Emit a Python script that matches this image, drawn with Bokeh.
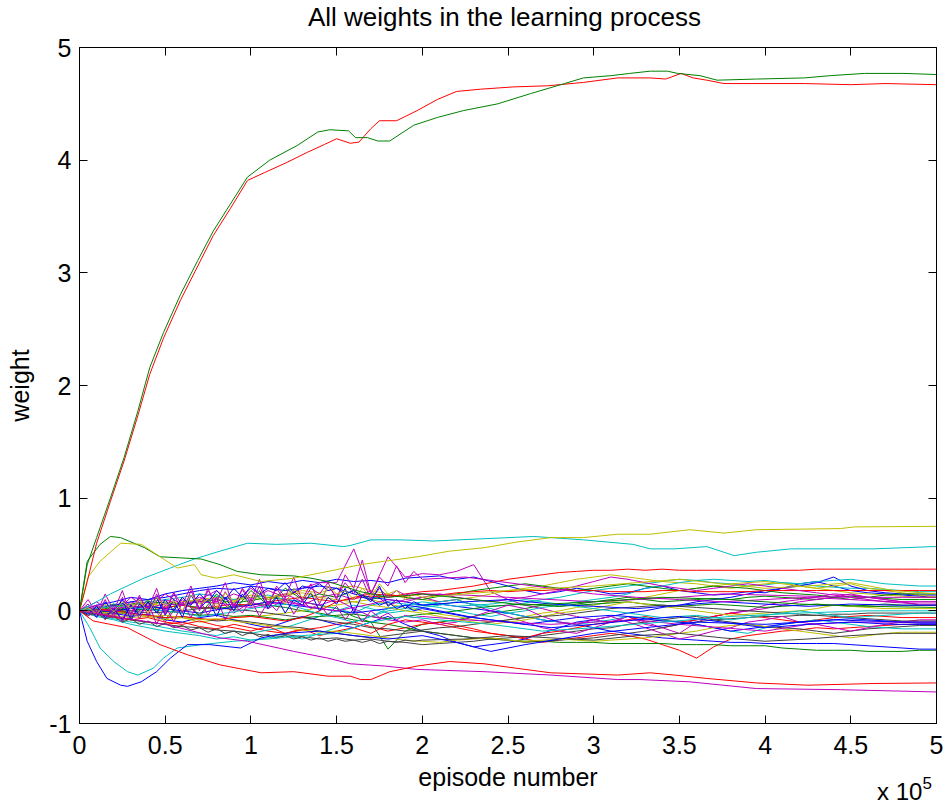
from bokeh.plotting import figure
from bokeh.models import Range1d, LinearAxis, FixedTicker, Div
from bokeh.layouts import column
from bokeh.embed import file_html
from bokeh.resources import INLINE

# ---------------- data (episode number in units of 1e5) ----------------
title_text = "All weights in the learning process"
x_ticks = [0, 0.5, 1, 1.5, 2, 2.5, 3, 3.5, 4, 4.5, 5]
x_tick_labels = ["0", "0.5", "1", "1.5", "2", "2.5", "3", "3.5", "4", "4.5", "5"]
y_ticks = [-1, 0, 1, 2, 3, 4, 5]
y_tick_labels = ["-1", "0", "1", "2", "3", "4", "5"]

x_grid = [0.0, 0.1, 0.2, 0.3, 0.4, 0.5, 0.6, 0.7, 0.8, 0.9,
          1.0, 1.1, 1.2, 1.3, 1.4, 1.5, 1.6, 1.7, 1.8, 1.9,
          2.0, 2.1, 2.2, 2.3, 2.4, 2.5, 2.6, 2.7, 2.8, 2.9,
          3.0, 3.1, 3.2, 3.3, 3.4, 3.5, 3.6, 3.7, 3.8, 3.9,
          4.0, 4.1, 4.2, 4.3, 4.4, 4.5, 4.6, 4.7, 4.8, 4.9, 5.0]

w01 = [0, .05, .08, .12, .10, .15, .18, .20, .22, .25, .23, .26, .24, .27, .25, .28, .26, .27, .25, .29,
       .30, .31, .28, .30, .26, .22, .18, .15, .17, .20, .18, .15, .16, .20, .22, .18, .16, .14, .15, .17,
       .16, .20, .24, .26, .22, .18, .16, .15, .14, .13, .12]
w02 = [0, -.02, .01, .03, .05, .02, .06, .08, .10, .07, .09, .12, .10, .08, .05, .02, -.05, -.10, -.34, -.18,
       -.12, -.10, -.08, -.05, -.02, 0.0, .02, .05, .04, .06, .08, .10, .12, .10, .08, .09, .10, .11, .10, .12,
       .13, .12, .11, .10, .12, .13, .12, .11, .10, .10, .10]
w03 = [0, -.03, -.06, -.08, -.10, -.12, -.10, -.14, -.16, -.12, -.15, -.18, -.20, -.17, -.15, -.12, -.10, -.14, -.18, -.15,
       -.12, -.10, -.13, -.16, -.20, -.22, -.25, -.28, -.26, -.24, -.22, -.20, -.22, -.25, -.30, -.35, -.42, -.32, -.25, -.22,
       -.20, -.18, -.17, -.15, -.16, -.15, -.14, -.13, -.12, -.12, -.12]
w04 = [0, -.04, -.07, -.10, -.12, -.15, -.18, -.20, -.22, -.18, -.20, -.17, -.15, -.10, -.05, 0, .05, .02, -.02, .00,
       .03, .05, .08, .06, .04, .05, .07, .10, .12, .15, .18, .20, .22, .24, .26, .28, .27, .25, .24, .22,
       .23, .25, .24, .22, .21, .20, .20, .19, .18, .17, .17]
w05 = [0, .05, -.02, .08, .03, .10, .05, .12, .08, .15, .10, .18, .12, .20, .25, .25, .55, .15, .48, .30,
       .33, .32, .35, .41, .17, .10, .05, .02, -.02, -.05, -.08, -.10, -.05, -.12, -.15, -.20, -.10, -.05, -.02, .00,
       .05, .08, .10, .12, .15, .14, .12, .10, .08, .08, .08]
w06 = [0, .02, .04, .03, .05, .08, .06, .10, .12, .10, .14, .12, .15, .18, .16, .20, .22, .18, .15, .12,
       .10, .08, .10, .12, .15, .18, .20, .22, .25, .28, .30, .32, .30, .28, .26, .25, .24, .22, .20, .22,
       .24, .25, .22, .20, .18, .16, .15, .14, .13, .12, .12]
w07 = [0, -.03, -.05, -.08, -.10, -.12, -.14, -.15, -.17, -.18, -.20, -.22, -.21, -.23, -.25, -.24, -.26, -.25, -.27, -.28,
       -.30, -.29, -.28, -.27, -.25, -.24, -.23, -.22, -.20, -.18, -.16, -.15, -.12, -.10, -.08, -.06, -.05, -.08, -.10, -.12,
       -.14, -.15, -.16, -.18, -.20, -.18, -.16, -.15, -.14, -.13, -.13]
w08 = [0, .03, -.02, -.05, -.03, -.08, -.10, -.06, -.04, -.08, -.12, -.15, -.10, -.05, -.08, -.12, -.15, -.10, -.05, -.12,
       -.18, -.22, -.28, -.32, -.30, -.28, -.25, -.20, -.15, -.10, -.08, -.05, -.02, 0, .03, .05, .08, .10, .12, .15,
       .18, .20, .22, .25, .30, .22, .18, .16, .15, .14, .14]
w09 = [0, .02, .04, .06, .08, .07, .05, .03, .02, .04, .06, .05, .03, .00, -.02, -.05, -.08, -.10, -.12, -.15,
       -.18, -.20, -.22, -.24, -.25, -.26, -.27, -.27, -.28, -.28, -.28, -.29, -.29, -.29, -.29, -.30, -.30, -.30, -.31, -.31,
       -.31, -.33, -.34, -.35, -.35, -.35, -.36, -.36, -.36, -.35, -.35]
w10 = [0, .01, -.01, .02, .00, .03, .05, .02, .04, .06, .05, .08, .10, .12, .10, .08, .11, .13, .12, .15,
       .17, .18, .20, .22, .25, .28, .30, .32, .34, .35, .36, .36, .37, .36, .37, .36, .36, .36, .36, .36,
       .36, .36, .36, .37, .37, .37, .37, .37, .37, .37, .37]
w11 = [0, .03, .06, .05, .08, .10, .12, .15, .13, .10, .12, .14, .10, .08, .05, .02, -.02, .05, .08, .06,
       .05, .03, .00, -.03, -.05, -.02, .00, .03, .05, .08, .10, .12, .15, .20, .22, .25, .27, .28, .27, .26,
       .27, .25, .24, .26, .27, .28, .26, .24, .23, .22, .22]
w12 = [0, -.05, .05, -.08, .08, -.10, .10, -.05, .12, -.02, .08, .02, .10, .05, .12, .15, .10, .18, .05, .10,
       .12, .08, .10, .05, .00, -.05, -.10, -.15, -.18, -.20, -.15, -.10, -.05, -.10, -.15, -.12, -.08, -.05, -.02, .00,
       .02, .05, .08, .10, .12, .15, .12, .10, .08, .05, .05]
w13 = [0, -.02, -.04, -.06, -.05, -.08, -.06, -.10, -.08, -.06, -.05, -.04, -.02, .00, .03, .05, .08, .10, .06, .03,
       .00, -.03, -.05, -.08, -.10, -.08, -.05, -.02, .00, .03, .05, .08, .10, .12, .15, .18, .20, .22, .24, .25,
       .26, .24, .22, .20, .22, .24, .20, .18, .16, .14, .12]
w14 = [0, -.01, -.03, -.02, -.04, -.06, -.05, -.07, -.09, -.08, -.10, -.12, -.14, -.15, -.18, -.20, -.22, -.24, -.22, -.20,
       -.18, -.20, -.22, -.24, -.25, -.26, -.28, -.27, -.26, -.25, -.24, -.22, -.20, -.18, -.15, -.12, -.10, -.08, -.07, -.06,
       -.05, -.05, -.04, -.04, -.03, -.03, -.02, -.02, -.02, -.02, -.02]
w15 = [0, .02, .05, .08, .10, .12, .15, .18, .20, .19, .22, .20, .18, .20, .22, .20, .15, .12, .10, .08,
       .05, .06, .04, .02, .00, -.02, -.05, -.08, -.10, -.12, -.15, -.18, -.20, -.22, -.24, -.25, -.26, -.27, -.28, -.28,
       -.29, -.29, -.29, -.29, -.29, -.30, -.31, -.32, -.33, -.34, -.34]
w16 = [0, .00, -.02, .00, .02, .00, -.02, -.04, -.03, -.05, -.04, -.06, -.08, -.06, -.05, -.04, -.03, -.05, -.07, -.05,
       -.03, -.02, .00, .02, .04, .05, .06, .05, .04, .05, .06, .07, .08, .06, .05, .04, .05, .06, .05, .04,
       .03, .04, .05, .06, .05, .04, .05, .06, .05, .05, .05]
w17 = [0, -.02, -.05, -.08, -.06, -.10, -.12, -.09, -.13, -.15, -.18, -.14, -.20, -.16, -.22, -.18, -.15, -.20, -.12, -.08,
       -.10, -.12, -.15, -.18, -.20, -.22, -.24, -.20, -.18, -.15, -.12, -.10, -.08, -.05, -.08, -.10, -.08, -.05, -.02, -.04,
       -.06, -.08, -.10, -.08, -.06, -.05, -.04, -.05, -.06, -.06, -.06]
w18 = [0, -.05, -.08, -.12, -.15, -.18, -.20, -.22, -.25, -.23, -.26, -.24, -.22, -.25, -.20, -.15, -.10, -.05, .00, .02,
       .05, .08, .10, .05, .02, -.02, -.05, -.08, -.10, -.12, -.10, -.08, -.05, -.06, -.08, -.10, -.12, -.15, -.18, -.20,
       -.15, -.12, -.10, -.08, -.10, -.12, -.14, -.15, -.16, -.16, -.16]
w19 = [0, .08, -.03, .12, .02, .15, .05, .10, .18, .05, .20, .10, .15, .08, .05, .10, .02, -.05, -.08, -.10,
       -.08, -.12, -.10, -.05, .00, .05, .02, -.05, -.10, -.12, -.08, -.05, -.10, -.15, -.20, -.25, -.22, -.18, -.15, -.10,
       -.08, -.05, -.10, -.12, -.15, -.18, -.15, -.12, -.10, -.08, -.08]
w20 = [0, .03, .01, .05, .07, .04, .08, .10, .06, .09, .12, .10, .14, .16, .12, .10, .08, .05, .03, .00,
       -.02, -.05, -.08, -.10, -.12, -.10, -.08, -.05, -.02, .00, .02, .05, .08, .06, .04, .02, .00, -.02, -.04, -.03,
       -.02, -.01, .00, .02, .05, .04, .03, .02, .02, .02, .02]
w21 = [0, .01, .02, .00, -.02, -.01, .00, .02, .03, .01, .00, -.02, -.04, -.06, -.08, -.10, -.12, -.15, -.16, -.18,
       -.17, -.15, -.14, -.12, -.10, -.08, -.06, -.05, -.04, -.02, .00, .02, .03, .04, .05, .04, .03, .02, .01, .00,
       -.01, -.02, -.03, -.04, -.05, -.06, -.07, -.08, -.09, -.09, -.09]
w22 = [0, -.02, .00, .02, .04, .02, .00, -.02, .01, .03, .05, .08, .06, .04, .02, .00, -.02, .00, .02, .05,
       .03, .00, -.03, -.06, -.08, -.10, -.12, -.10, -.08, -.06, -.05, -.04, -.05, -.07, -.09, -.10, -.12, -.15, -.18, -.16,
       -.14, -.12, -.10, -.09, -.08, -.07, -.08, -.09, -.10, -.11, -.11]
w23 = [0, -.03, .06, -.06, .10, -.08, .12, -.04, .15, .00, .18, .05, .20, .10, .15, .12, .18, .10, .14, .12,
       .10, .13, .15, .18, .20, .22, .24, .22, .20, .18, .20, .22, .24, .22, .20, .18, .20, .22, .21, .20,
       .18, .16, .15, .14, .12, .10, .12, .14, .15, .15, .15]
w24 = [0, .02, .00, -.02, -.04, -.06, -.05, -.07, -.08, -.06, -.05, -.07, -.09, -.06, .00, .08, .12, .15, .14, .13,
       .15, .14, .16, .17, .18, .17, .18, .18, .19, .18, .18, .17, .17, .17, .18, .18, .17, .17, .17, .17,
       .18, .18, .18, .18, .18, .18, .18, .18, .18, .18, .18]
w25 = [0, .02, .04, .03, .01, .00, -.02, -.05, -.03, -.01, .02, .04, .06, .02, -.03, -.06, -.10, -.05, .02, .05,
       .08, .06, .04, .05, .06, .08, .10, .08, .06, .04, .02, .00, -.02, -.04, -.06, -.05, -.04, -.06, -.08, -.06,
       -.04, -.02, .00, -.02, -.04, -.06, -.05, -.04, -.03, -.02, -.02]
w26 = [0, -.01, .02, .04, .03, .06, .05, .08, .07, .05, .03, .06, .08, .05, .02, .00, .03, .06, .10, .08,
       .12, .15, .12, .10, .08, .10, .12, .15, .18, .22, .26, .30, .28, .25, .22, .20, .18, .20, .22, .24,
       .22, .20, .18, .16, .14, .12, .10, .08, .07, .06, .06]
w27 = [0, -.02, -.01, -.03, -.05, -.04, -.06, -.08, -.07, -.09, -.11, -.13, -.15, -.17, -.19, -.18, -.20, -.22, -.24, -.26,
       -.27, -.28, -.26, -.25, -.24, -.26, -.27, -.26, -.25, -.26, -.27, -.26, -.25, -.24, -.22, -.20, -.18, -.15, -.13, -.12,
       -.14, -.16, -.18, -.20, -.22, -.24, -.22, -.20, -.19, -.19, -.19]

# fine-sampled noisy weights (0..2.0 every 0.05, then every 0.25)
x_fine = [0.0, 0.05, 0.1, 0.15, 0.2, 0.25, 0.3, 0.35, 0.4, 0.45, 0.5, 0.55, 0.6, 0.65, 0.7, 0.75, 0.8, 0.85, 0.9, 0.95,
          1.0, 1.05, 1.1, 1.15, 1.2, 1.25, 1.3, 1.35, 1.4, 1.45, 1.5, 1.55, 1.6, 1.65, 1.7, 1.75, 1.8, 1.85, 1.9, 1.95,
          2.0, 2.25, 2.5, 2.75, 3.0, 3.25, 3.5, 3.75, 4.0, 4.25, 4.5, 4.75, 5.0]
n01 = [0, .06, -.04, .10, -.06, .12, -.03, .14, -.05, .15, .00, .16, -.02, .18, .02, .20, .00, .17, .04, .19,
       .06, .22, .05, .20, .08, .18, .10, .24, .06, .22, .12, .25, .15, .28, .10, .20, .12, .18, .14, .16,
       .15, .14, .12, .10, .08, .10, .12, .15, .14, .13, .12, .12, .12]
n02 = [0, -.05, .05, -.08, .04, -.10, .06, -.07, .08, -.12, .05, -.10, .08, -.06, .10, -.04, .12, -.08, .06, -.02,
       .10, -.05, .08, .00, .12, -.03, .09, .02, .06, -.04, .04, -.08, .02, -.10, .00, -.06, -.02, -.08, -.04, -.06,
       -.05, -.08, -.10, -.12, -.10, -.08, -.12, -.15, -.18, -.12, -.10, -.10, -.10]
n03 = [0, .04, -.06, .08, -.02, .10, -.08, .06, .00, .12, -.04, .10, -.06, .14, .02, .10, -.05, .12, .00, .15,
       .04, .18, .02, .12, -.02, .10, .05, .16, .00, .12, .06, .20, -.02, .14, .08, .22, .04, .10, .02, .08,
       .05, .08, .10, .06, .04, .02, .05, .08, .06, .04, .06, .05, .05]
n04 = [0, .10, -.02, .15, .00, .18, -.05, .12, .02, .20, -.03, .16, .05, .22, .00, .18, .08, .25, .03, .20,
       .10, .28, .05, .22, .12, .30, .08, .20, .15, .25, .10, .32, .20, .45, .15, .30, .22, .40, .25, .35,
       .28, .30, .25, .20, .15, .12, .10, .08, .10, .12, .10, .08, .08]
n05 = [0, -.03, .04, -.06, .02, -.08, .05, -.04, .08, -.02, .10, .00, .12, .05, .15, .08, .18, .10, .20, .12,
       .22, .15, .20, .18, .25, .16, .22, .20, .24, .18, .20, .15, .18, .12, .10, .05, .08, .02, .05, .00,
       .02, -.05, -.10, -.15, -.12, -.08, -.05, -.10, -.15, -.12, -.10, -.12, -.12]
n06 = [0, .03, -.03, .06, -.01, .08, .02, .10, -.02, .12, .04, .09, .00, .14, .06, .10, .02, .16, .08, .12,
       .05, .18, .10, .14, .06, .20, .12, .16, .08, .22, .15, .18, .10, .20, .12, .24, .15, .18, .10, .15,
       .12, .15, .18, .20, .22, .25, .28, .24, .20, .22, .25, .18, .15]
n07 = [0, -.04, -.02, -.07, -.05, -.10, -.07, -.12, -.09, -.14, -.11, -.15, -.13, -.17, -.15, -.19, -.16, -.20, -.18, -.22,
       -.19, -.23, -.21, -.24, -.22, -.25, -.23, -.26, -.24, -.27, -.25, -.27, -.26, -.28, -.26, -.29, -.27, -.28, -.26, -.27,
       -.26, -.25, -.22, -.24, -.26, -.22, -.20, -.24, -.27, -.25, -.22, -.20, -.20]

# outlying weights, each with its own sample points
g1_x = [0, 0.045, 0.10, 0.18, 0.26, 0.34, 0.41, 0.49, 0.59, 0.69, 0.78, 0.88, 0.98, 1.11, 1.27, 1.39, 1.46, 1.57,
        1.61, 1.68, 1.74, 1.81, 1.95, 2.09, 2.24, 2.44, 2.63, 2.83, 2.94, 3.10, 3.21, 3.33, 3.43, 3.49, 3.62, 3.72,
        3.95, 4.23, 4.38, 4.58, 4.81, 5.0]
g1_y = [0, 0.41, 0.65, 1.00, 1.36, 1.77, 2.16, 2.47, 2.81, 3.11, 3.37, 3.61, 3.85, 4.00, 4.13, 4.25, 4.27, 4.26,
        4.20, 4.20, 4.17, 4.17, 4.31, 4.38, 4.44, 4.50, 4.59, 4.68, 4.73, 4.75, 4.77, 4.79, 4.79, 4.77, 4.75, 4.71,
        4.72, 4.73, 4.75, 4.77, 4.77, 4.76]
r1_x = [0, 0.045, 0.10, 0.18, 0.26, 0.34, 0.41, 0.49, 0.59, 0.69, 0.78, 0.88, 0.98, 1.08, 1.21, 1.33, 1.43, 1.50,
        1.58, 1.63, 1.70, 1.75, 1.85, 1.97, 2.09, 2.20, 2.34, 2.53, 2.73, 2.94, 3.14, 3.33, 3.42, 3.51, 3.58, 3.66,
        3.76, 4.23, 4.50, 4.70, 5.0]
r1_y = [0, 0.26, 0.60, 0.97, 1.33, 1.73, 2.10, 2.42, 2.76, 3.06, 3.33, 3.57, 3.82, 3.89, 3.98, 4.07, 4.14, 4.19,
        4.15, 4.16, 4.28, 4.35, 4.35, 4.44, 4.54, 4.61, 4.63, 4.65, 4.66, 4.69, 4.73, 4.73, 4.72, 4.77, 4.73, 4.71,
        4.68, 4.68, 4.67, 4.68, 4.67]
y1_x = [0, 0.05, 0.12, 0.24, 0.36, 0.45, 0.57, 0.67, 0.71, 0.80, 0.90, 1.06, 1.25, 1.45, 1.64, 1.78, 1.97, 2.16,
        2.36, 2.55, 2.75, 2.94, 3.14, 3.33, 3.56, 3.76, 3.95, 4.44, 4.52, 5.0]
y1_y = [0, 0.30, 0.44, 0.60, 0.59, 0.50, 0.38, 0.41, 0.32, 0.29, 0.32, 0.26, 0.29, 0.35, 0.41, 0.44, 0.48, 0.53,
        0.56, 0.61, 0.65, 0.65, 0.68, 0.68, 0.72, 0.69, 0.72, 0.73, 0.745, 0.75]
g2_x = [0, 0.045, 0.12, 0.18, 0.24, 0.38, 0.47, 0.59, 0.71, 0.82, 0.92, 1.06, 1.25, 1.35, 1.45, 1.64, 1.8, 2.0,
        2.3, 2.6, 3.0, 3.4, 3.8, 4.2, 4.6, 5.0]
g2_y = [0, 0.44, 0.59, 0.66, 0.65, 0.56, 0.48, 0.47, 0.46, 0.41, 0.35, 0.32, 0.31, 0.29, 0.26, 0.17, 0.12, 0.15,
        0.10, 0.05, 0.08, 0.12, 0.10, 0.06, 0.04, 0.03]
c1_x = [0, 0.1, 0.18, 0.375, 0.53, 0.67, 0.82, 0.98, 1.15, 1.35, 1.54, 1.58, 1.70, 1.87, 2.07, 2.36, 2.65, 2.94,
        3.23, 3.33, 3.47, 3.66, 3.82, 3.95, 4.15, 4.63, 4.98, 5.0]
c1_y = [0, 0.08, 0.15, 0.29, 0.38, 0.46, 0.53, 0.60, 0.59, 0.60, 0.57, 0.58, 0.63, 0.63, 0.62, 0.64, 0.66, 0.63,
        0.59, 0.55, 0.55, 0.57, 0.49, 0.52, 0.55, 0.55, 0.57, 0.57]
r3_x = [0, 0.08, 0.28, 0.47, 0.63, 0.82, 1.06, 1.25, 1.45, 1.58, 1.64, 1.70, 1.81, 1.97, 2.16, 2.36, 2.55, 2.75,
        3.14, 3.33, 3.47, 3.66, 3.95, 4.25, 4.63, 5.0]
r3_y = [0, -0.09, -0.15, -0.30, -0.39, -0.48, -0.55, -0.54, -0.58, -0.58, -0.61, -0.61, -0.54, -0.49, -0.45, -0.47,
        -0.51, -0.55, -0.57, -0.55, -0.57, -0.60, -0.64, -0.66, -0.645, -0.64]
m1_x = [0, 0.2, 0.5, 0.82, 0.98, 1.25, 1.45, 1.58, 1.78, 1.97, 2.36, 2.75, 3.14, 3.27, 3.56, 3.95, 4.44, 5.0]
m1_y = [0, -0.05, -0.12, -0.24, -0.27, -0.36, -0.42, -0.47, -0.49, -0.52, -0.54, -0.57, -0.61, -0.61, -0.63, -0.69,
        -0.70, -0.72]
b1_x = [0, 0.045, 0.10, 0.16, 0.24, 0.28, 0.36, 0.45, 0.53, 0.63, 0.76, 0.94, 1.06, 1.2, 1.4, 1.6, 1.8, 2.0, 2.2,
        2.4, 2.6, 2.8, 3.0, 3.3, 3.6, 4.0, 4.4, 4.8, 5.0]
b1_y = [0, -0.27, -0.45, -0.60, -0.66, -0.67, -0.63, -0.54, -0.42, -0.30, -0.30, -0.33, -0.24, -0.20, -0.18, -0.22,
        -0.25, -0.22, -0.28, -0.36, -0.30, -0.25, -0.20, -0.15, -0.10, -0.12, -0.08, -0.10, -0.10]
c2_x = [0, 0.06, 0.12, 0.20, 0.28, 0.34, 0.43, 0.49, 0.57, 0.71, 0.9, 1.1, 1.3, 1.5, 1.7, 1.9, 2.1, 2.4, 2.7, 3.0,
        3.4, 3.8, 4.2, 4.6, 5.0]
c2_y = [0, -0.15, -0.33, -0.45, -0.54, -0.57, -0.51, -0.42, -0.33, -0.30, -0.27, -0.25, -0.22, -0.20, -0.10, -0.05,
        -0.08, -0.12, -0.18, -0.15, -0.10, -0.05, -0.02, 0.00, 0.00]

# MATLAB colour order b, g, r, c, m, y, k
palette = ["#0000ff", "#008000", "#ff0000", "#00bfbf", "#bf00bf", "#bfbf00", "#404040"]

# ---------------- figure ----------------
FONT = "Liberation Sans"
TITLE_H = 31
BORDER_TOP = 16
BORDER_BOTTOM = 90
FRAME_H = 676
p = figure(frame_width=857, frame_height=FRAME_H, x_range=Range1d(0, 5), y_range=Range1d(-1, 5),
           output_backend="svg", toolbar_location=None,
           min_border_left=79, min_border_right=8, min_border_top=BORDER_TOP, min_border_bottom=BORDER_BOTTOM,
           background_fill_color="white", border_fill_color="white", margin=(0, 0, 0, 0))
p.xgrid.visible = False
p.ygrid.visible = False
p.outline_line_color = "black"
p.outline_line_width = 1

def style_axis(ax, ticks, labels, show_labels):
    ax.ticker = FixedTicker(ticks=ticks)
    ax.major_tick_in = 8
    ax.major_tick_out = 0
    ax.minor_tick_line_color = None
    ax.axis_line_color = "black"
    ax.major_tick_line_color = "black"
    ax.major_label_text_font = FONT
    if show_labels:
        ax.major_label_overrides = {float(t): s for t, s in zip(ticks, labels)}
        ax.major_label_text_font_size = "25px"
        ax.major_label_text_color = "black"
    else:
        ax.major_label_text_font_size = "1px"
        ax.major_label_text_color = None
        ax.major_label_standoff = 0

xa = p.xaxis[0]
style_axis(xa, x_ticks, x_tick_labels, True)
xa.major_label_standoff = 12
xa.axis_label = "episode number"
xa.axis_label_text_font = FONT
xa.axis_label_text_font_size = "25px"
xa.axis_label_text_font_style = "normal"
xa.axis_label_text_color = "black"
xa.axis_label_standoff = 6

ya = p.yaxis[0]
style_axis(ya, y_ticks, y_tick_labels, True)
ya.major_label_standoff = 8
ya.axis_label = "weight"
ya.axis_label_text_font = FONT
ya.axis_label_text_font_size = "25px"
ya.axis_label_text_font_style = "normal"
ya.axis_label_text_color = "black"
ya.axis_label_standoff = 12

top = LinearAxis()
style_axis(top, x_ticks, x_tick_labels, False)
p.add_layout(top, "above")
right = LinearAxis()
style_axis(right, y_ticks, y_tick_labels, False)
p.add_layout(right, "right")

cluster = [w01, w02, w03, w04, w05, w06, w07, w08, w09, w10, w11, w12, w13, w14,
           w15, w16, w17, w18, w19, w20, w21, w22, w23, w24, w25, w26, w27]
for i, w in enumerate(cluster):
    n = min(len(w), len(x_grid))
    p.line(x_grid[:n], w[:n], line_color=palette[i % 7], line_width=1)

fine = [(n01, palette[4]), (n02, palette[4]), (n03, palette[0]), (n04, palette[4]),
        (n05, palette[0]), (n06, palette[5]), (n07, palette[6])]
for w, col in fine:
    n = min(len(w), len(x_fine))
    p.line(x_fine[:n], w[:n], line_color=col, line_width=1)

outliers = [(c2_x, c2_y, palette[3]), (b1_x, b1_y, palette[0]), (m1_x, m1_y, palette[4]),
            (r3_x, r3_y, palette[2]), (c1_x, c1_y, palette[3]), (g2_x, g2_y, palette[1]),
            (y1_x, y1_y, palette[5]), (r1_x, r1_y, palette[2]), (g1_x, g1_y, palette[1])]
for xs, ys, col in outliers:
    n = min(len(xs), len(ys))
    p.line(xs[:n], ys[:n], line_color=col, line_width=1)

# title above the plot and the "x 10^5" multiplier below its right end
title_div = Div(text=title_text, width=857, height=TITLE_H, margin=(0, 0, 0, 76),
                styles={"font-family": "Liberation Sans", "font-size": "26px", "color": "black",
                        "text-align": "center", "line-height": "28px", "padding-top": "3px"})
fig_bottom = TITLE_H + BORDER_TOP + FRAME_H + BORDER_BOTTOM
x10_top = 779
x10_div = Div(text="<span style='font-size:24px'>x 10</span>"
                   "<span style='font-size:17px; position:relative; top:-11px'>5</span>",
              width=68, height=26, margin=(x10_top - fig_bottom, 0, 0, 877),
              styles={"font-family": "Liberation Sans", "color": "black", "line-height": "26px",
                      "white-space": "nowrap"})

layout = column(title_div, p, x10_div, spacing=0, margin=(0, 0, 0, 0))
open("out.html", "w").write(file_html(layout, INLINE))
